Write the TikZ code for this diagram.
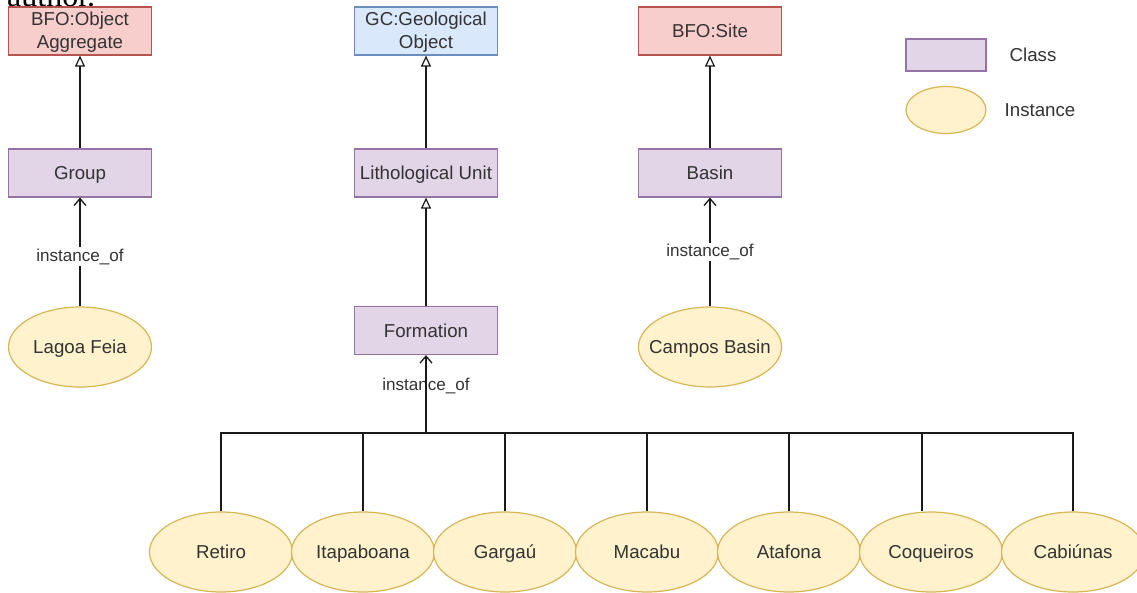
\documentclass[tikz,border=0pt]{standalone}
\usepackage{fontspec}
\setmainfont{Liberation Sans}
\newfontfamily\captionserif{Liberation Serif}
\usetikzlibrary{shapes.geometric,arrows.meta}

\definecolor{txt}{HTML}{333333}
\definecolor{classfill}{HTML}{E1D5E7}
\definecolor{classdraw}{HTML}{9673A6}
\definecolor{instfill}{HTML}{FFF2CC}
\definecolor{instdraw}{HTML}{D6B656}
\definecolor{redfill}{HTML}{F8CECC}
\definecolor{reddraw}{HTML}{B85450}
\definecolor{bluefill}{HTML}{DAE8FC}
\definecolor{bluedraw}{HTML}{6C8EBF}
\definecolor{edgecol}{HTML}{1A1A1A}

% zero-width label so the ellipse keeps its set size
\newcommand{\zw}[1]{\makebox[0pt]{#1}}

\tikzset{
  box/.style={rectangle, minimum width=143pt, minimum height=48pt, inner sep=0pt,
    line width=1.2pt, text=txt, align=center,
    font=\fontsize{18.7}{22.5}\selectfont},
  oneline/.style={text height=13.4pt, text depth=0pt},
  classbox/.style={box, oneline, fill=classfill, draw=classdraw},
  redbox/.style={box, fill=redfill, draw=reddraw},
  bluebox/.style={box, fill=bluefill, draw=bluedraw},
  boxtext/.style={text=txt, align=center, inner sep=0pt,
    font=\fontsize{18.7}{22.8}\selectfont},
  instnode/.style={ellipse, minimum width=143pt, minimum height=80pt, inner sep=0pt,
    fill=instfill, draw=instdraw, line width=1.2pt, text=txt, oneline,
    font=\fontsize{18.7}{22.5}\selectfont},
  isa/.style={draw=edgecol, line width=1.3pt,
    -{Triangle[open, width=10pt, length=11pt, line width=1.2pt]}},
  instof/.style={draw=edgecol, line width=1.3pt,
    -{Straight Barb[width=12pt, length=7pt, line width=1.3pt]}},
  link/.style={draw=edgecol, line width=1.3pt},
  lbl/.style={text=txt, inner sep=1.5pt, text height=12.5pt, text depth=3pt,
    font=\fontsize{17.1}{20}\selectfont},
  legendtext/.style={text=txt, oneline, font=\fontsize{18.7}{22.5}\selectfont}
}

\begin{document}
\begin{tikzpicture}[x=1pt, y=-1pt]
  \useasboundingbox (0,0) rectangle (1137,592);
  \clip (0,0) rectangle (1137,592);
  \fill[white] (0,0) rectangle (1137,592);

  % tail of the text line running above the figure
  \node[anchor=base west, inner sep=0pt, font=\captionserif\fontsize{32}{36}\selectfont]
    (captail) at (7,6) {author.};

  % upper-level classes
  \node[redbox]  (agg)  at (80,31)  {};
  \node[boxtext] (aggt) at (80,32.5) {BFO:Object\\Aggregate};
  \node[bluebox] (geo)  at (426,31) {};
  \node[boxtext] (geot) at (426,32.5) {GC:Geological\\Object};
  \node[redbox, oneline] (site) at (710,31) {BFO:Site};

  % domain classes
  \node[classbox] (grp)   at (80,173)    {Group};
  \node[classbox] (lith)  at (426,173)   {Lithological Unit};
  \node[classbox] (basin) at (710,173)   {Basin};
  \node[classbox] (form)  at (426,330.5) {Formation};

  % instances
  \node[instnode] (lf) at (80,347)  {\zw{Lagoa Feia}};
  \node[instnode] (cb) at (710,347) {\zw{Campos Basin}};

  \node[instnode] (f1) at (221,552)  {\zw{Retiro}};
  \node[instnode] (f2) at (363,552)  {\zw{Itapaboana}};
  \node[instnode] (f3) at (505,552)  {\zw{Gargaú}};
  \node[instnode] (f4) at (647,552)  {\zw{Macabu}};
  \node[instnode] (f5) at (789,552)  {\zw{Atafona}};
  \node[instnode] (f6) at (931,552)  {\zw{Coqueiros}};
  \node[instnode] (f7) at (1073,552) {\zw{Cabiúnas}};

  % legend
  \node[classbox, minimum width=80pt, minimum height=32pt] (lgc) at (946,55) {};
  \node[legendtext] (lgct) at (1033,55) {Class};
  \node[instnode, minimum width=80pt, minimum height=47pt] (lgi) at (946,110) {};
  \node[legendtext] (lgit) at (1040,110) {Instance};

  % subclass links
  \draw[isa] (grp.north)   -- (agg.south);
  \draw[isa] (lith.north)  -- (geo.south);
  \draw[isa] (basin.north) -- (site.south);
  \draw[isa] (form.north)  -- (lith.south);

  % instance_of links
  \draw[instof] (lf.north) -- node[lbl, fill=white, pos=0.46] (lab1) {instance\_of} (grp.south);
  \draw[instof] (cb.north) -- node[lbl, fill=white, pos=0.5] (lab2) {instance\_of} (basin.south);

  % formations joined on one bus up to Formation
  \coordinate (bus) at (426,433);
  \node[lbl] (lab3) at (426,386) {instance\_of};
  \draw[instof] (bus) -- (form.south);
  \draw[link] (f1.north) |- (bus);
  \draw[link] (f2.north) |- (bus);
  \draw[link] (f3.north) |- (bus);
  \draw[link] (f4.north) |- (bus);
  \draw[link] (f5.north) |- (bus);
  \draw[link] ([xshift=-9pt]f6.north) |- (bus);
  \draw[link] (f7.north) |- (bus);
\end{tikzpicture}
\end{document}
